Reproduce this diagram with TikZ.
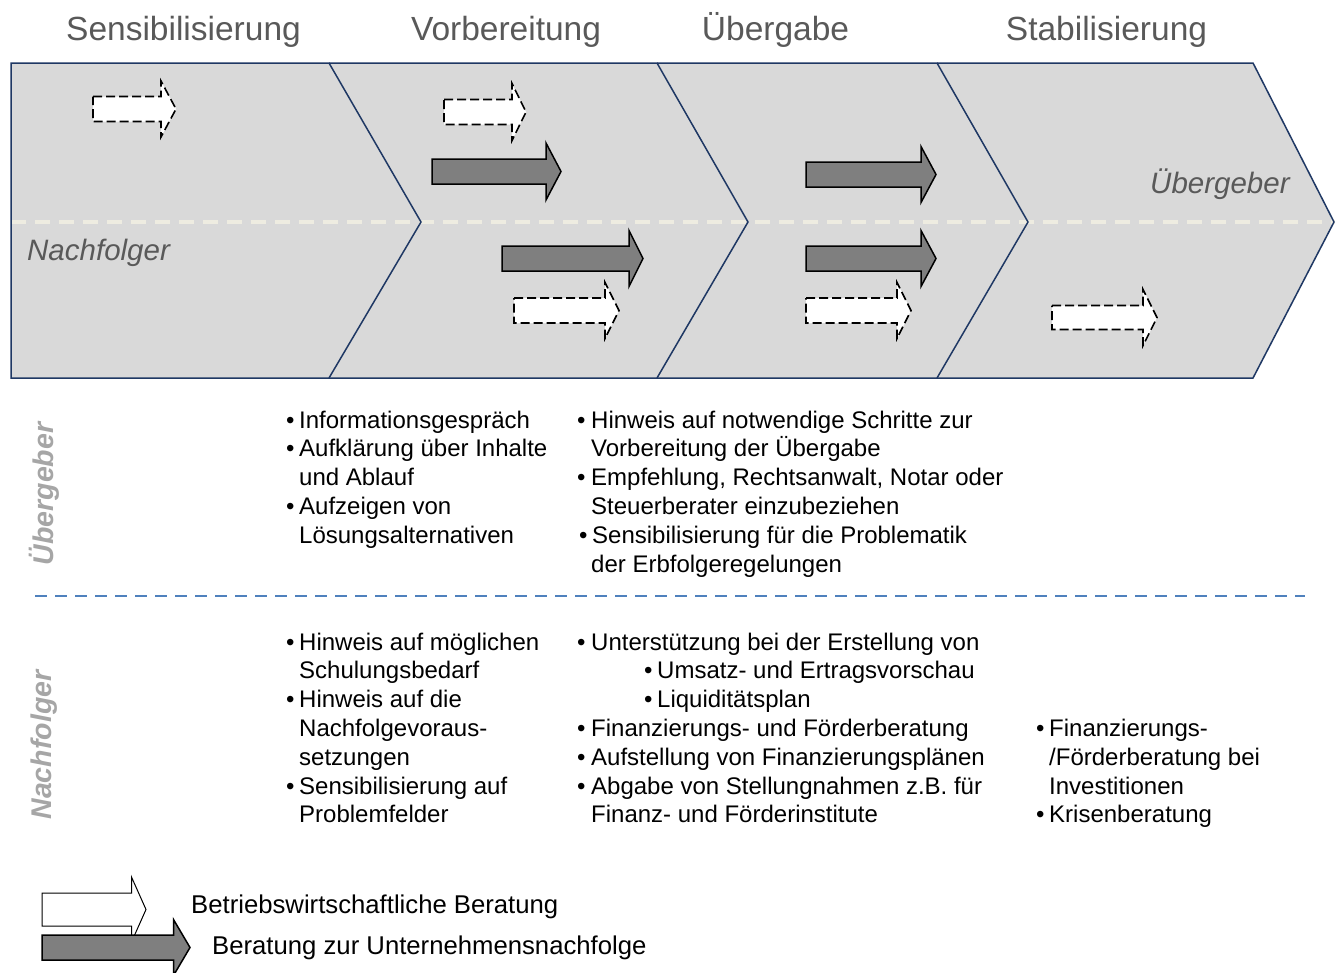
\documentclass[tikz,border=0pt]{standalone}
\usepackage{fontspec}
\setmainfont{Liberation Sans}
\definecolor{bandfill}{HTML}{D9D9D9}
\definecolor{navy}{HTML}{1F3864}
\definecolor{midl}{HTML}{EEECE1}
\definecolor{labgrey}{HTML}{595959}
\definecolor{rowgrey}{HTML}{A6A6A6}
\definecolor{sepblue}{HTML}{4F81BD}
\definecolor{arrgrey}{HTML}{7F7F7F}
\tikzset{
  chev/.style={fill=bandfill, draw=navy, line width=1.5pt, line join=miter},
  midline/.style={draw=midl, line width=4pt, dash pattern=on 15pt off 9pt},
  seprule/.style={draw=sepblue, line width=2pt, dash pattern=on 12pt off 8pt},
  dasharr/.style={fill=white, draw=black, line width=1.6pt, dash pattern=on 9pt off 4pt, line join=miter},
  greyarr/.style={fill=arrgrey, draw=black, line width=1.5pt, line join=miter},
  whitearr/.style={fill=white, draw=black, line width=1pt, line join=miter},
  phase/.style={anchor=base, inner sep=0pt, text=labgrey, font=\fontsize{33.5}{40}\selectfont},
  bandlab/.style={anchor=base west, inner sep=0pt, text=labgrey, font=\fontsize{29.5}{35}\selectfont\itshape},
  rowlab/.style={rotate=90, inner sep=0pt, text=rowgrey, font=\fontsize{28.5}{34}\selectfont\bfseries\itshape},
  txt/.style={anchor=base west, inner sep=0pt, font=\fontsize{24}{29}\selectfont},
  legtxt/.style={anchor=base west, inner sep=0pt, font=\fontsize{25.7}{30}\selectfont}
}
% style, x0, xhead, xtip, ycenter, body half height, head half height
\newcommand{\blkarr}[7]{%
  \draw[#1] (#2,#5-#6) -- (#3,#5-#6) -- (#3,#5-#7) -- (#4,#5) -- (#3,#5+#7) -- (#3,#5+#6) -- (#2,#5+#6) -- cycle;}
\newcommand{\tline}[4]{\node[txt] (#1) at (#2,#3) {#4};}
\newcommand{\tbul}[3]{\node[txt] (#1) at (#2,#3) {\textbullet};}
\begin{document}
\begin{tikzpicture}[x=1pt,y=-1pt]
\useasboundingbox[fill=white] (0,0) rectangle (1335,972);

% phase titles
\node[phase] (t1) at (183.5,40) {Sensibilisierung};
\node[phase] (t2) at (506,40) {Vorbereitung};
\node[phase] (t3) at (775.5,40) {Übergabe};
\node[phase] (t4) at (1106.5,40) {Stabilisierung};

% chevron band
\fill[bandfill] (11,63) -- (1253,63) -- (1334,222) -- (1253,378) -- (11,378) -- cycle;
\draw[midline] (11,222) -- (1335,222);
\draw[chev, fill=none] (11,63) -- (329,63) -- (421,222) -- (329,378) -- (11,378) -- cycle;
\draw[chev, fill=none] (329,63) -- (657,63) -- (748,222) -- (657,378) -- (329,378);
\draw[chev, fill=none] (657,63) -- (937,63) -- (1028,222) -- (937,378) -- (657,378);
\draw[chev, fill=none] (937,63) -- (1253,63) -- (1334,222) -- (1253,378) -- (937,378);

% band labels
\node[bandlab] (nf) at (27,260) {Nachfolger};
\node[bandlab] (ug) at (1150,193) {Übergeber};

% arrows in band
\blkarr{dasharr}{93}{161}{176}{109}{12.5}{28}
\blkarr{dasharr}{444}{512}{526}{112}{12.5}{28.5}
\blkarr{greyarr}{432}{546}{561}{171.5}{12.5}{28.5}
\blkarr{greyarr}{502}{629}{643}{258.5}{12.5}{28}
\blkarr{dasharr}{514}{605}{619}{310.5}{12.5}{28}
\blkarr{greyarr}{806}{921}{936}{174.5}{12.5}{28}
\blkarr{greyarr}{806}{921}{936}{258.5}{12.5}{28}
\blkarr{dasharr}{806}{897}{911}{310.5}{12.5}{28}
\blkarr{dasharr}{1052}{1143}{1157}{317.5}{12}{28}

% row labels
\node[rowlab] (rl1) at (44,494) {Übergeber};
\node[rowlab] (rl2) at (44,745) {Nachfolger};

% separator
\coordinate (sepL) at (35,596);
\coordinate (sepR) at (1305,596);
\draw[seprule] (sepL) -- (sepR);

% Übergeber row, column 1
\tbul{b11}{286}{428}\tline{a11}{299}{428}{Informationsgespräch}
\tbul{b12}{286}{456.8}\tline{a12}{299}{456.8}{Aufklärung über Inhalte}
\tline{a13}{299}{485.6}{und Ablauf}
\tbul{b14}{286}{514.4}\tline{a14}{299}{514.4}{Aufzeigen von}
\tline{a15}{299}{543.2}{Lösungsalternativen}
% Übergeber row, column 2
\tbul{b21}{577}{428}\tline{a21}{591}{428}{Hinweis auf notwendige Schritte zur}
\tline{a22}{591}{456.8}{Vorbereitung der Übergabe}
\tbul{b23}{577}{485.6}\tline{a23}{591}{485.6}{Empfehlung, Rechtsanwalt, Notar oder}
\tline{a24}{591}{514.4}{Steuerberater einzubeziehen}
\tbul{b25}{579}{543.2}\tline{a25}{592}{543.2}{Sensibilisierung für die Problematik}
\tline{a26}{591}{572}{der Erbfolgeregelungen}

% Nachfolger row, column 1
\tbul{c11}{286}{650}\tline{d11}{299}{650}{Hinweis auf möglichen}
\tline{d12}{299}{678.8}{Schulungsbedarf}
\tbul{c13}{286}{707.6}\tline{d13}{299}{707.6}{Hinweis auf die}
\tline{d14}{299}{736.4}{Nachfolgevoraus-}
\tline{d15}{299}{765.2}{setzungen}
\tbul{c16}{286}{794}\tline{d16}{299}{794}{Sensibilisierung auf}
\tline{d17}{299}{822.8}{Problemfelder}
% Nachfolger row, column 2
\tbul{c21}{577}{650}\tline{d21}{591}{650}{Unterstützung bei der Erstellung von}
\tbul{c22}{644}{678.8}\tline{d22}{657}{678.8}{Umsatz- und Ertragsvorschau}
\tbul{c23}{644}{707.6}\tline{d23}{657}{707.6}{Liquiditätsplan}
\tbul{c24}{577}{736.4}\tline{d24}{591}{736.4}{Finanzierungs- und Förderberatung}
\tbul{c25}{577}{765.2}\tline{d25}{591}{765.2}{Aufstellung von Finanzierungsplänen}
\tbul{c26}{577}{794}\tline{d26}{591}{794}{Abgabe von Stellungnahmen z.B. für}
\tline{d27}{591}{822.8}{Finanz- und Förderinstitute}
% Nachfolger row, column 3
\tbul{c31}{1036}{736.4}\tline{d31}{1049}{736.4}{Finanzierungs-}
\tline{d32}{1049}{765.2}{/Förderberatung bei}
\tline{d33}{1049}{794}{Investitionen}
\tbul{c34}{1036}{822.8}\tline{d34}{1049}{822.8}{Krisenberatung}

% legend
\blkarr{whitearr}{42}{131.5}{146}{909.5}{16.5}{32.5}
\blkarr{greyarr}{42}{173.5}{190}{947.5}{12.5}{28}
\node[legtxt] (lg1) at (191,913) {Betriebswirtschaftliche Beratung};
\node[legtxt] (lg2) at (212,954) {Beratung zur Unternehmensnachfolge};
\end{tikzpicture}
\end{document}
